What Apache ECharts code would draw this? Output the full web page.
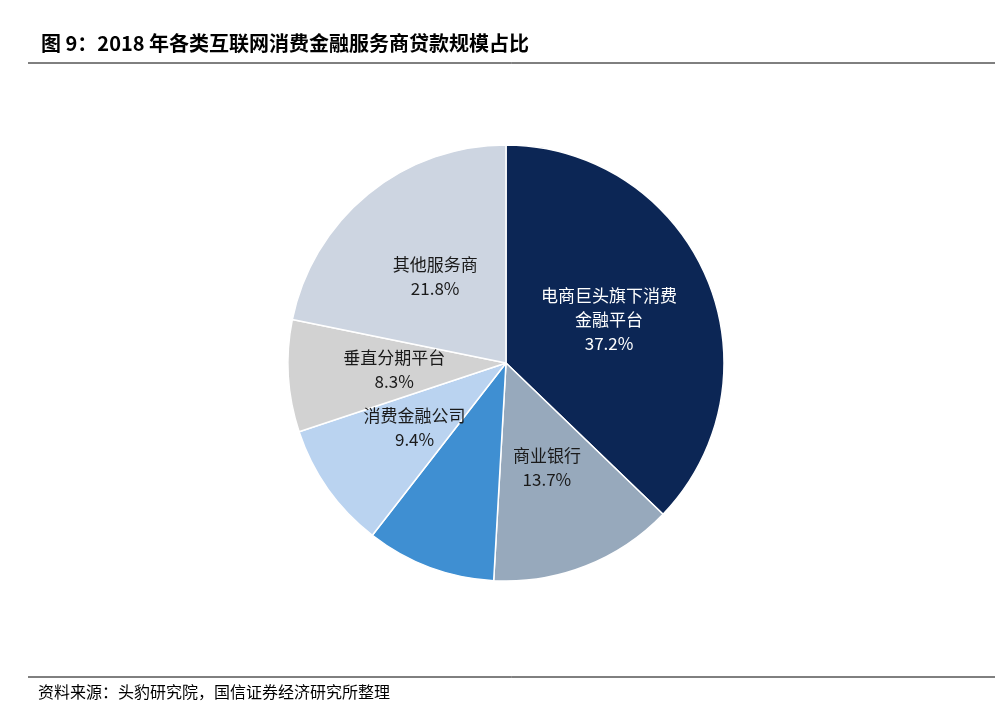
<!DOCTYPE html>
<html><head><meta charset="utf-8">
<script src="https://cdn.jsdelivr.net/npm/echarts@6/dist/echarts.min.js"></script>
<style>html,body{margin:0;padding:0;background:#fff}#c{width:1003px;height:712px}</style>
</head><body><div id="c"></div>
<script>
const categories = ['电商巨头旗下消费\n金融平台','商业银行','网贷平台','消费金融公司','垂直分期平台','其他服务商'];
const values = [37.2, 13.7, 9.6, 9.4, 8.3, 21.8];
const colors = ['#0c2655','#97a9bc','#3f8fd2','#bad3f0','#d2d2d2','#cdd5e1'];
const labelColors = ['#ffffff','#1a1a1a','#1a1a1a','#1a1a1a','#1a1a1a','#1a1a1a'];
const font = '"Noto Sans CJK SC", sans-serif';
const chart = echarts.init(document.getElementById('c'));
chart.setOption({
  animation:false,
  textStyle:{fontFamily:font},
  title:{text:'图 9：2018 年各类互联网消费金融服务商贷款规模占比',left:36,top:28,
    textStyle:{fontSize:20,fontWeight:'bold',color:'#000',fontFamily:font}},
  graphic:[
    {type:'line',shape:{x1:28,y1:63,x2:995,y2:63},style:{stroke:'#000',lineWidth:1}},
    {type:'line',shape:{x1:28,y1:677,x2:995,y2:677},style:{stroke:'#000',lineWidth:1}},
    {type:'text',left:38,top:684,style:{text:'资料来源：头豹研究院，国信证券经济研究所整理',fontSize:16,fill:'#000',fontFamily:font}}
  ],
  series:[{
    type:'pie',center:[506,363],radius:[0,218],startAngle:90,clockwise:true,
    itemStyle:{borderColor:'#fff',borderWidth:1.5},
    label:{position:'inside',fontSize:17,lineHeight:24,
      formatter:p=>p.name+'\n'+p.value.toFixed(1)+'%'},
    labelLine:{show:false},
    data:categories.map((n,i)=>({name:n,value:values[i],
      itemStyle:{color:colors[i]},label:{color:labelColors[i]}}))
  }]
});
</script></body></html>
